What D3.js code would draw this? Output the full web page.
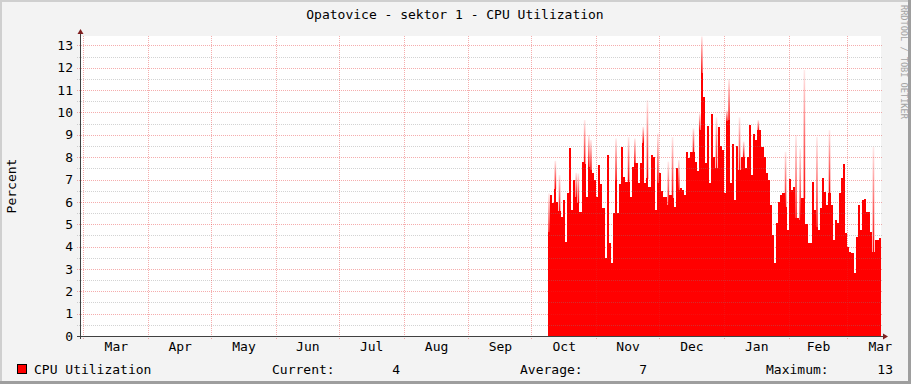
<!DOCTYPE html>
<html><head><meta charset="utf-8">
<script src="https://cdn.jsdelivr.net/npm/d3@7"></script>
<style>
html,body{margin:0;padding:0;background:#f3f3f3}
svg{display:block}
text{font-family:"DejaVu Sans Mono",monospace;fill:#000}
</style>
</head><body>
<svg id="chart" width="911" height="384"></svg>
<script>
// ---------------- data ----------------
const chartTitle = "Opatovice - sektor 1 - CPU Utilization";
const yAxisLabel = "Percent";
const watermark = "RRDTOOL / TOBI OETIKER";
const seriesName = "CPU Utilization";
const firstSampleDay = "2013-10-09";      // first daily sample
const axisStart = "2013-02-27T20:15";      // left edge of plot
const axisEnd = "2014-03-17T02:30";        // right edge of plot
const yMax = 13.42;

// daily CPU utilisation (%) from Oct 9 to Mar 16
const cpuDaily = [
  4.67,6.3,5.93,6.59,6.0,5.59,5.34,6.08,4.2,6.4,
  8.39,5.63,6.98,6.2,5.96,5.56,7.8,7.7,6.23,7.57,
  7.42,7.27,6.98,6.2,7.65,6.8,5.71,3.5,8.1,4.14,
  3.25,5.5,6.98,5.52,6.8,8.47,7.13,6.9,6.9,6.23,
  7.57,7.72,7.72,6.83,7.72,8.65,6.83,7.05,6.68,8.09,
  8.02,5.63,6.83,7.27,6.5,6.23,6.2,5.86,6.3,6.16,
  5.78,7.5,6.53,6.6,6.53,6.3,8.24,7.95,8.24,8.24,
  7.8,7.4,9.2,11.75,10.7,7.72,9.4,6.83,9.93,8.02,
  7.5,9.36,8.5,8.32,6.38,9.63,9.66,6.83,8.6,6.08,
  8.5,7.42,8.02,8.02,7.5,8.02,9.44,7.2,9.03,8.77,
  9.2,9.2,8.47,8.0,7.27,6.98,5.86,4.5,3.25,5.04,
  6.0,6.3,6.4,5.78,4.74,7.02,6.53,6.68,5.26,5.26,
  5.19,6.16,6.16,5.0,4.14,4.14,6.9,5.63,4.89,4.74,
  5.71,7.05,6.45,5.86,6.38,5.86,4.29,5.2,5.04,6.38,
  7.05,7.69,4.59,4.0,3.77,3.7,2.83,4.44,5.86,4.74,
  6.08,6.11,5.56,5.56,4.67,3.77,4.29,4.29,4.37
];
// short-lived daily peaks (index into cpuDaily, peak %)
const peakDay = [0,3,5,13,14,17,19,20,32,38,41,45,47,52,57,59,62,69,72,73,80,85,86,91,93,100,113,118,120,122,128,134,155];
const peakVal = [6.38,7.84,7.2,7.3,7.27,9.66,8.99,8.77,8.84,8.9,8.84,9.36,10.55,9.06,7.8,8.9,7.87,9.29,9.96,13.4,9.78,10.1,11.5,9.78,8.7,9.66,8.24,8.99,8.39,11.9,8.91,9.21,8.47];

const yTicks = [0,1,2,3,4,5,6,7,8,9,10,11,12,13];
const yMinorTicks = [0.5,1.5,2.5,3.5,4.5,5.5,6.5,7.5,8.5,9.5,10.5,11.5,12.5,13.5];
const monthLabels = ["Mar","Apr","May","Jun","Jul","Aug","Sep","Oct","Nov","Dec","Jan","Feb","Mar"];
const legendStats = [["Current:","4"],["Average:","7"],["Maximum:","13"]];

// ---------------- drawing ----------------
const W = 911, H = 384;
const plot = {left:81, right:881, top:36, bottom:336};
const svg = d3.select("#chart");

const parseDay = d3.utcParse("%Y-%m-%d");
const parseT = d3.utcParse("%Y-%m-%dT%H:%M");
const t0 = parseT(axisStart), t1 = parseT(axisEnd);
const x = d3.scaleUtc().domain([t0, t1]).range([plot.left, plot.right]);
const y = d3.scaleLinear().domain([0, yMax]).range([plot.bottom, plot.top]);

// canvas + frame
svg.append("rect").attr("width",W).attr("height",H).attr("fill","#f3f3f3");
svg.append("rect").attr("x",0).attr("y",0).attr("width",W).attr("height",2).attr("fill","#cfcfcf");
svg.append("rect").attr("x",0).attr("y",0).attr("width",2).attr("height",H).attr("fill","#cfcfcf");
svg.append("rect").attr("x",0).attr("y",H-3).attr("width",W).attr("height",3).attr("fill","#9e9e9e");
svg.append("rect").attr("x",W-3).attr("y",0).attr("width",3).attr("height",H).attr("fill","#9e9e9e");

// plot background
svg.append("rect").attr("x",plot.left).attr("y",plot.top)
  .attr("width",plot.right-plot.left).attr("height",plot.bottom-plot.top).attr("fill","#ffffff");

// data
const start = parseDay(firstSampleDay);
const pts = cpuDaily.map((v,i)=>({date:d3.utcDay.offset(start,i), v}));
pts.push({date:d3.utcDay.offset(start,cpuDaily.length), v:cpuDaily[cpuDaily.length-1]});

const defs = svg.append("defs");
const grad = defs.append("linearGradient").attr("id","fade").attr("x1",0).attr("y1",1).attr("x2",0).attr("y2",0);
grad.append("stop").attr("offset","0%").attr("stop-color","#ff0000").attr("stop-opacity",1);
grad.append("stop").attr("offset","100%").attr("stop-color","#ff0000").attr("stop-opacity",0.08);

const area = d3.area().x(d=>x(d.date)).y0(y(0)).y1(d=>y(d.v)).curve(d3.curveStepAfter);
svg.append("path").datum(pts).attr("d",area).attr("fill","#ff0000").attr("shape-rendering","crispEdges");

svg.append("g").selectAll("rect").data(peakDay.map((d,k)=>({i:d,p:peakVal[k]})))
  .join("rect")
  .attr("x",d=>(x(d3.utcDay.offset(start,d.i))+x(d3.utcDay.offset(start,d.i+1)))/2-0.8)
  .attr("width",1.6)
  .attr("y",d=>y(d.p))
  .attr("height",d=>y(cpuDaily[d.i])-y(d.p)+0.5)
  .attr("fill","url(#fade)");

// grid (drawn over data, rrdtool style)
const grid = svg.append("g").attr("shape-rendering","crispEdges");
grid.selectAll(".mi").data(yMinorTicks.filter(v=>v<yMax)).join("line")
  .attr("x1",plot.left-4).attr("x2",plot.right+2)
  .attr("y1",d=>Math.round(y(d))+0.5).attr("y2",d=>Math.round(y(d))+0.5)
  .attr("stroke","rgba(130,130,130,0.35)").attr("stroke-dasharray","1,1");
grid.selectAll(".ma").data(yTicks).join("line")
  .attr("x1",plot.left-4).attr("x2",plot.right+2)
  .attr("y1",d=>Math.round(y(d))+0.5).attr("y2",d=>Math.round(y(d))+0.5)
  .attr("stroke","rgba(230,40,40,0.38)").attr("stroke-dasharray","1,1");
const months = d3.utcMonth.range(d3.utcMonth.ceil(t0), t1);
grid.selectAll(".mv").data(months).join("line")
  .attr("x1",d=>Math.round(x(d))+0.5).attr("x2",d=>Math.round(x(d))+0.5)
  .attr("y1",plot.top).attr("y2",plot.bottom+3)
  .attr("stroke","rgba(230,40,40,0.38)").attr("stroke-dasharray","1,1");

// axes lines + arrows
svg.append("line").attr("x1",plot.left-4).attr("x2",plot.right+2)
  .attr("y1",plot.bottom+0.5).attr("y2",plot.bottom+0.5).attr("stroke","#404040");
svg.append("line").attr("x1",plot.left-0.5).attr("x2",plot.left-0.5)
  .attr("y1",plot.bottom+3).attr("y2",plot.top-4).attr("stroke","#404040");
svg.append("path").attr("d",`M${plot.right+2},${plot.bottom-2.5}L${plot.right+7},${plot.bottom+0.5}L${plot.right+2},${plot.bottom+3.5}Z`).attr("fill","#7f1f1f");
svg.append("path").attr("d",`M${plot.left-3.5},${plot.top-2}L${plot.left-0.5},${plot.top-7}L${plot.left+2.5},${plot.top-2}Z`).attr("fill","#7f1f1f");

// y axis labels
const yAxis = d3.axisLeft(y).tickValues(yTicks).tickSize(0).tickPadding(8).tickFormat(d3.format("d"));
const gy = svg.append("g").attr("transform",`translate(${plot.left},0)`).call(yAxis);
gy.select(".domain").remove();
gy.selectAll("text").attr("font-family","DejaVu Sans Mono").attr("font-size",13).attr("fill","#000");

// x axis labels at mid-month
const labelMonths = d3.utcMonth.range(d3.utcMonth.ceil(t0), t1);
const midDates = labelMonths.map(m=>new Date((+m + +d3.utcMonth.offset(m,1))/2));
const xAxis = d3.axisBottom(x).tickValues(midDates).tickSize(0).tickPadding(6)
  .tickFormat((d,i)=>monthLabels[i]);
const gx = svg.append("g").attr("transform",`translate(0,${plot.bottom})`).call(xAxis);
gx.select(".domain").remove();
gx.selectAll("text").attr("font-family","DejaVu Sans Mono").attr("font-size",13).attr("fill","#000");

// title
svg.append("text").attr("x",455).attr("y",18.5).attr("text-anchor","middle")
  .attr("font-size",13).text(chartTitle);
// y label
svg.append("text").attr("transform",`translate(15.5,${(plot.top+plot.bottom)/2}) rotate(-90)`)
  .attr("text-anchor","middle").attr("font-size",13).text(yAxisLabel);
// watermark
svg.append("text").attr("transform","translate(900.5,5) rotate(90)")
  .attr("font-size",8.6).style("fill","#a3a3a3").text(watermark);

// legend
const lg = svg.append("g");
lg.append("rect").attr("x",17.5).attr("y",364.5).attr("width",9).attr("height",9)
  .attr("fill","#ff0000").attr("stroke","#000");
lg.append("text").attr("x",34).attr("y",373.5).attr("font-size",13).text(seriesName);
const statX = [[272,400],[520,647],[766,893]];
legendStats.forEach((s,i)=>{
  lg.append("text").attr("x",statX[i][0]).attr("y",373.5).attr("font-size",13).text(s[0]);
  lg.append("text").attr("x",statX[i][1]).attr("y",373.5).attr("font-size",13).attr("text-anchor","end").text(s[1]);
});
</script>
</body></html>
